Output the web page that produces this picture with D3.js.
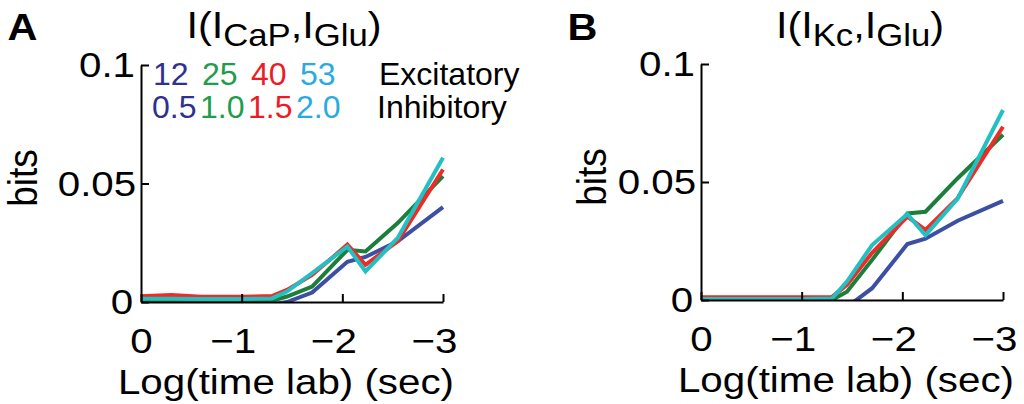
<!DOCTYPE html>
<html>
<head>
<meta charset="utf-8">
<script src="https://d3js.org/d3.v7.min.js"></script>
<style>
  body { margin: 0; background: #fff; }
  text { font-family: "Liberation Sans", Arial, sans-serif; fill: #000; }
  .axis path, .axis line { stroke: #000; stroke-width: 2; }
  /* the reference lettering is a little wider than Arial */
  .wide { transform-box: fill-box; transform-origin: center; transform: scaleX(1.12); }
  .tall { transform-box: fill-box; transform-origin: center; transform: scaleY(1.12); }
</style>
</head>
<body>
<svg id="chart" width="1024" height="404"></svg>
<script>
// log10 of the time step (sec), shared by every curve
const logTime = [0, -0.3, -0.6, -1.0, -1.3, -1.45, -1.7, -2.05, -2.23, -2.55, -3.0];

// legend labels: excitatory / inhibitory conductances
const excitatory = ["12", "25", "40", "53"];
const inhibitory = ["0.5", "1.0", "1.5", "2.0"];
const lineColors = ["#3c4fa3", "#1b7e3b", "#ee2b25", "#22bfc3"];
const legendColors = ["#2e3192", "#1f9d4a", "#ed1c24", "#29abe2"];

// panel A: I(I_CaP, I_Glu), bits
const capBlue  = [-0.001, -0.001, -0.001, -0.001, -0.001, 0.0, 0.004, 0.017, 0.019, 0.0256, 0.040];
const capGreen = [0.0005, 0.0005, 0.0005, 0.0005, 0.0005, 0.0023, 0.0065, 0.022, 0.0213, 0.0333, 0.0531];
const capRed   = [0.0024, 0.0029, 0.0022, 0.0022, 0.0025, 0.0051, 0.0114, 0.0242, 0.0157, 0.0256, 0.0559];
const capCyan  = [0.0014, 0.0014, 0.0013, 0.0013, 0.0015, 0.0044, 0.0122, 0.0234, 0.0129, 0.027, 0.0609];

// panel B: I(I_Kc, I_Glu), bits
const kcBlue  = [-0.004, -0.004, -0.004, -0.004, -0.004, -0.003, 0.005, 0.0237, 0.026, 0.0336, 0.042];
const kcGreen = [0, 0, 0, 0, 0, 0.0035, 0.017, 0.0367, 0.0374, 0.0516, 0.070];
const kcRed   = [0.0012, 0.0012, 0.0012, 0.0012, 0.0012, 0.0064, 0.020, 0.0353, 0.0297, 0.0432, 0.0734];
const kcCyan  = [0.0004, 0.0004, 0.0004, 0.0004, 0.0006, 0.0078, 0.0233, 0.0364, 0.0275, 0.043, 0.0805];

const xTicks = [0, -1, -2, -3];
const yTicks = [0, 0.05, 0.1];

const svg = d3.select("#chart");
svg.append("rect").attr("width", 1024).attr("height", 404).attr("fill", "#fff");

const panels = [
  {id: "a", letter: "A", sub: "CaP", left: 141, right: 443, top: 65, bottom: 302,
   titleDx: -8, bitsDx: -106, series: [capBlue, capGreen, capRed, capCyan], legend: true},
  {id: "b", letter: "B", sub: "Kc", left: 701, right: 1003, top: 64, bottom: 300,
   titleDx: 8, bitsDx: -97, series: [kcBlue, kcGreen, kcRed, kcCyan], legend: false}
];

function drawPanel (p) {
  let x = d3.scaleLinear().domain([0, -3]).range([p.left, p.right]);
  let y = d3.scaleLinear().domain([0, 0.1]).range([p.bottom, p.top]);
  let cx = (p.left + p.right) / 2;

  // clip below the x axis (negative values disappear)
  svg.append("clipPath").attr("id", "clip-" + p.id)
    .append("rect")
    .attr("x", 0).attr("y", p.top - 10)
    .attr("width", 1024).attr("height", p.bottom - p.top + 10);

  let line = d3.line()
    .x((d, i) => x(logTime[i]))
    .y(d => y(d));

  svg.append("g")
    .attr("clip-path", "url(#clip-" + p.id + ")")
    .selectAll("path")
    .data(p.series)
    .enter().append("path")
      .attr("d", line)
      .attr("fill", "none")
      .attr("stroke", (d, i) => lineColors[i])
      .attr("stroke-width", 4)
      .attr("stroke-linejoin", "miter");

  // x axis, ticks pointing inwards
  let gx = svg.append("g")
    .attr("class", "axis")
    .attr("transform", "translate(0," + p.bottom + ")")
    .call(d3.axisBottom(x)
      .tickValues(xTicks)
      .tickSizeInner(-8)
      .tickSizeOuter(0)
      .tickPadding(25)
      .tickFormat(d3.format("d")));
  gx.selectAll("text")
    .attr("class", "wide")
    .style("font-size", "36px")
    .attr("fill", "#000")
    .attr("dx", d => d < 0 ? -9 : 0);

  // y axis
  let gy = svg.append("g")
    .attr("class", "axis")
    .attr("transform", "translate(" + p.left + ",0)")
    .call(d3.axisLeft(y)
      .tickValues(yTicks)
      .tickSizeInner(-8)
      .tickSizeOuter(0)
      .tickPadding(9)
      .tickFormat(d => d === 0 ? "0" : String(d)));
  gy.selectAll("text")
    .attr("class", "wide")
    .style("font-size", "36px")
    .attr("fill", "#000");

  // axis titles
  svg.append("text")
    .attr("class", "wide")
    .attr("x", cx - 6).attr("y", p.bottom + 92)
    .attr("text-anchor", "middle")
    .style("font-size", "36px")
    .text("Log(time lab) (sec)");

  svg.append("g")
    .attr("transform", "translate(" + (p.left + p.bitsDx) + "," + (p.top + 113) + ") rotate(-90)")
    .append("text")
      .attr("class", "tall")
      .attr("text-anchor", "middle")
      .style("font-size", "37px")
      .text("bits");

  // panel letter
  svg.append("text")
    .attr("class", "wide")
    .attr("x", p.left - 132).attr("y", 40)
    .style("font-size", "37px")
    .style("font-weight", "bold")
    .text(p.letter);

  // title I(I_sub, I_Glu)
  let t = svg.append("text")
    .attr("class", "wide")
    .attr("x", cx + p.titleDx).attr("y", 38)
    .attr("text-anchor", "middle")
    .style("font-size", "37px");
  t.append("tspan").text("I(I");
  t.append("tspan").attr("dy", 8).style("font-size", "31px").text(p.sub);
  t.append("tspan").attr("dy", -8).text(",I");
  t.append("tspan").attr("dy", 8).style("font-size", "31px").text("Glu");
  t.append("tspan").attr("dy", -8).text(")");

  if (p.legend) {
    let lg = svg.append("g").style("font-size", "32px");
    lg.selectAll("text.exc")
      .data(excitatory)
      .enter().append("text")
        .attr("x", (d, i) => p.left + 12 + i * 49)
        .attr("y", p.top + 20)
        .style("fill", (d, i) => legendColors[i])
        .text(d => d);
    lg.selectAll("text.inh")
      .data(inhibitory)
      .enter().append("text")
        .attr("x", (d, i) => p.left + 11 + i * 48)
        .attr("y", p.top + 53)
        .style("fill", (d, i) => legendColors[i])
        .text(d => d);
    lg.append("text").attr("x", p.left + 238).attr("y", p.top + 20).text("Excitatory");
    lg.append("text").attr("x", p.left + 236).attr("y", p.top + 53).text("Inhibitory");
  }
}

panels.forEach(drawPanel);
</script>
</body>
</html>
